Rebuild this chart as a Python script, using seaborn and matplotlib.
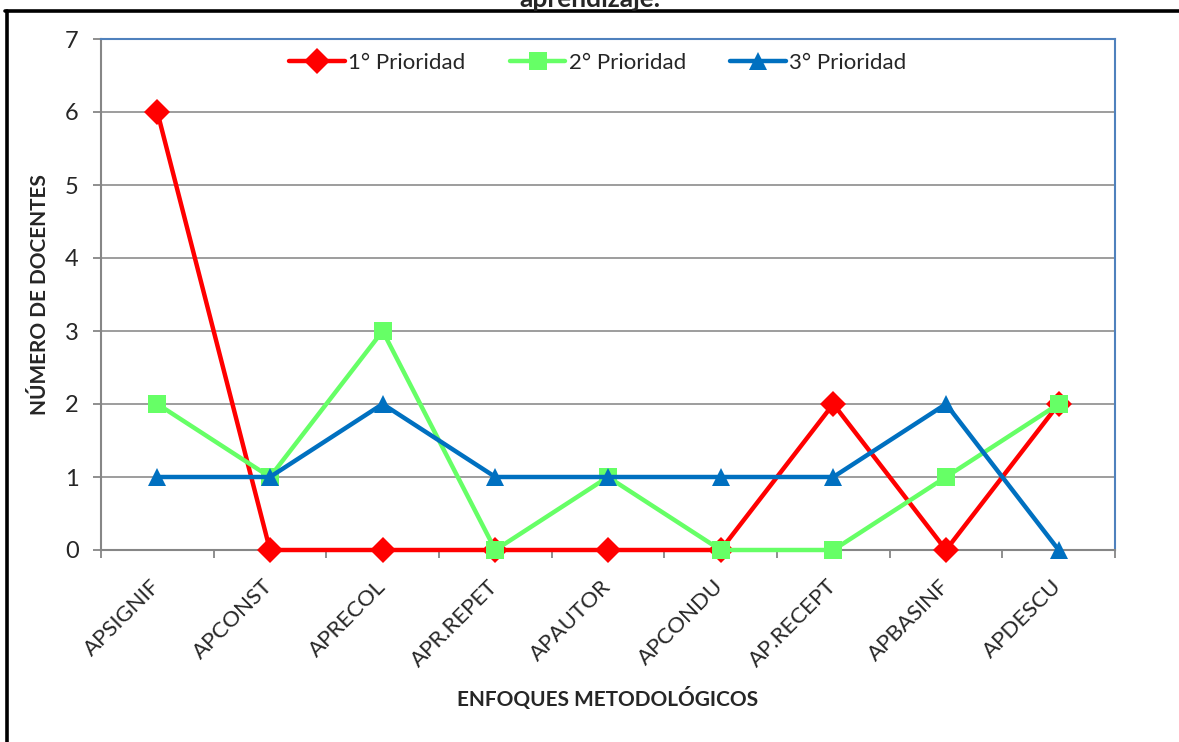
import numpy as np
import pandas as pd
import matplotlib
matplotlib.use("Agg")
import matplotlib.pyplot as plt
import seaborn as sns
from matplotlib.lines import Line2D

# datos
categorias = ["APSIGNIF", "APCONST", "APRECOL", "APR.REPET", "APAUTOR",
              "APCONDU", "AP.RECEPT", "APBASINF", "APDESCU"]
prioridad_1 = [6, 0, 0, 0, 0, 0, 2, 0, 2]
prioridad_2 = [2, 1, 3, 0, 1, 0, 0, 1, 2]
prioridad_3 = [1, 1, 2, 1, 1, 1, 1, 2, 0]
series = ["1° Prioridad", "2° Prioridad", "3° Prioridad"]
colores = ["#FF0000", "#66FF66", "#0070C0"]
marcadores = ["D", "s", "^"]
titulo = "aprendizaje."

sns.set_style("white")
plt.rcParams["font.family"] = ["Lato", "DejaVu Sans"]

df = pd.DataFrame({
    "pos": list(range(len(categorias))) * 3,
    "valor": prioridad_1 + prioridad_2 + prioridad_3,
    "serie": [s for s in series for _ in categorias],
})

fig = plt.figure(figsize=(11.79, 7.42), dpi=100)
ax = fig.add_axes([101 / 1179, 192 / 742, 1014 / 1179, 511 / 742])

sns.lineplot(data=df, x="pos", y="valor", hue="serie", style="serie",
             hue_order=series, style_order=series, palette=colores,
             markers=marcadores, dashes=False, linewidth=3.2,
             markersize=13, markeredgewidth=0, sort=False, clip_on=False,
             ax=ax)
for i, linea in enumerate(ax.lines):
    linea.set_zorder(3 + i * 0.1)

ax.set_xlim(-0.5, len(categorias) - 0.5)
ax.set_ylim(0, 7)
ax.set_yticks(range(0, 8))
ax.yaxis.grid(True, color="#8C8C8C", linewidth=1.2)
ax.set_axisbelow(True)

ax.set_xticks(range(len(categorias)))
ax.set_xticklabels(categorias, rotation=45, ha="right", va="center",
                   rotation_mode="anchor", fontsize=16)
ax.set_xticks(np.arange(-0.5, len(categorias)), minor=True)
ax.tick_params(axis="x", which="major", length=0, pad=24)
ax.tick_params(axis="x", which="minor", length=6, width=1.3, color="#868686",
               direction="out", bottom=True)
ax.tick_params(axis="y", length=6, width=1.3, color="#868686", direction="out",
               labelsize=17, pad=10, left=True)

for lado in ["left", "bottom"]:
    ax.spines[lado].set_color("#868686")
    ax.spines[lado].set_linewidth(1.5)
for lado in ["top", "right"]:
    ax.spines[lado].set_color("#4F81BD")
    ax.spines[lado].set_linewidth(1.5)

ax.set_xlabel("ENFOQUES METODOLÓGICOS", fontsize=15, fontweight="bold")
ax.xaxis.set_label_coords(0.5, -0.29)
ax.xaxis.label.set_va("center")
ax.set_ylabel("NÚMERO DE DOCENTES", fontsize=15, fontweight="bold")
ax.yaxis.set_label_coords(-0.060, 0.5)
ax.yaxis.label.set_va("center")

handles, labels = ax.get_legend_handles_labels()
ax.legend(handles, labels, loc="upper center", bbox_to_anchor=(0.49, 1.012),
          ncol=3, frameon=False, fontsize=16, handlelength=2.5,
          handletextpad=0.15, columnspacing=2.0)

# titulo cortado y marco del grafico
fig.text(590 / 1179, 1 - 7 / 742, titulo, ha="center", va="baseline",
         fontsize=19, fontweight="bold")
fig.add_artist(Line2D([5 / 1179, 1], [1 - 11 / 742, 1 - 11 / 742],
                      transform=fig.transFigure, color="black", linewidth=2.6))
fig.add_artist(Line2D([7 / 1179, 7 / 1179], [0, 1 - 11 / 742],
                      transform=fig.transFigure, color="black", linewidth=2.6))

fig.savefig("out.png", dpi=100)
